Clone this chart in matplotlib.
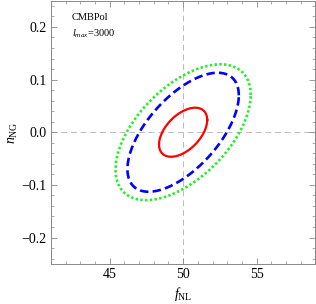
import numpy as np
import matplotlib
matplotlib.use("Agg")
import matplotlib.pyplot as plt
from matplotlib.ticker import MultipleLocator

plt.rcParams['font.family'] = ['Liberation Serif', 'DejaVu Serif']
plt.rcParams['mathtext.fontset'] = 'custom'
plt.rcParams['mathtext.rm'] = 'Liberation Serif'
plt.rcParams['mathtext.it'] = 'Liberation Serif:italic'

# fiducial point
f_nl0 = 50.0
n_ng0 = 0.0

# contours: half widths in f_NL and n_NG, correlation
names = ['inner', 'middle', 'outer']
half_fnl = [1.64, 3.79, 4.6]
half_nng = [0.0466, 0.113, 0.129]
corr = [0.5, 0.62, 0.55]
colors = ['#ff0000', '#0000ff', '#22ee22']
styles = ['-', (0, (3.2, 1.6)), (0, (0.9, 0.9))]

fig = plt.figure(figsize=(3.16, 3.04), dpi=100)
ax = fig.add_axes([0.161, 0.132, 0.837, 0.866])

t = np.linspace(0, 2*np.pi, 400)
for i in range(len(names)):
    x = f_nl0 + half_fnl[i]*np.cos(t)
    y = n_ng0 + half_nng[i]*(corr[i]*np.cos(t) + np.sqrt(1 - corr[i]**2)*np.sin(t))
    ax.plot(x, y, color=colors[i], linestyle=styles[i], lw=1.6 if i == 0 else 1.9)

ax.axvline(f_nl0, color='#bbbbbb', lw=0.7, ls=(0, (6, 4)), zorder=0)
ax.axhline(n_ng0, color='#bbbbbb', lw=0.7, ls=(0, (6, 4)), zorder=0)

ax.set_xlim(41, 59)
ax.set_ylim(-0.25, 0.25)
ax.xaxis.set_major_locator(MultipleLocator(5))
ax.xaxis.set_minor_locator(MultipleLocator(1))
ax.yaxis.set_major_locator(MultipleLocator(0.1))
ax.yaxis.set_minor_locator(MultipleLocator(0.02))
ax.yaxis.set_major_formatter(plt.FuncFormatter(
    lambda v, p: ('%.1f' % v).replace('-', '\u2212') if abs(v) > 1e-9 else '0.0'))
ax.tick_params(which='both', direction='in', top=True, right=True, color='#888888',
               labelsize=10, pad=3)
ax.tick_params(which='major', length=4, width=0.6)
ax.tick_params(which='minor', length=2.2, width=0.5)
for s in ax.spines.values():
    s.set_color('#888888')
    s.set_linewidth(0.7)

ax.set_xlabel(r'$f_{\rm NL}$', fontsize=10, labelpad=3)
ax.set_ylabel(r'$n_{\rm NG}$', fontsize=10, labelpad=1)

ax.text(0.08, 0.935, 'CMBPol', transform=ax.transAxes, fontsize=7.5, va='center')
ax.text(0.08, 0.875, r'$l_{max}$=3000', transform=ax.transAxes, fontsize=7.5, va='center')

fig.savefig('out.png', dpi=100)
